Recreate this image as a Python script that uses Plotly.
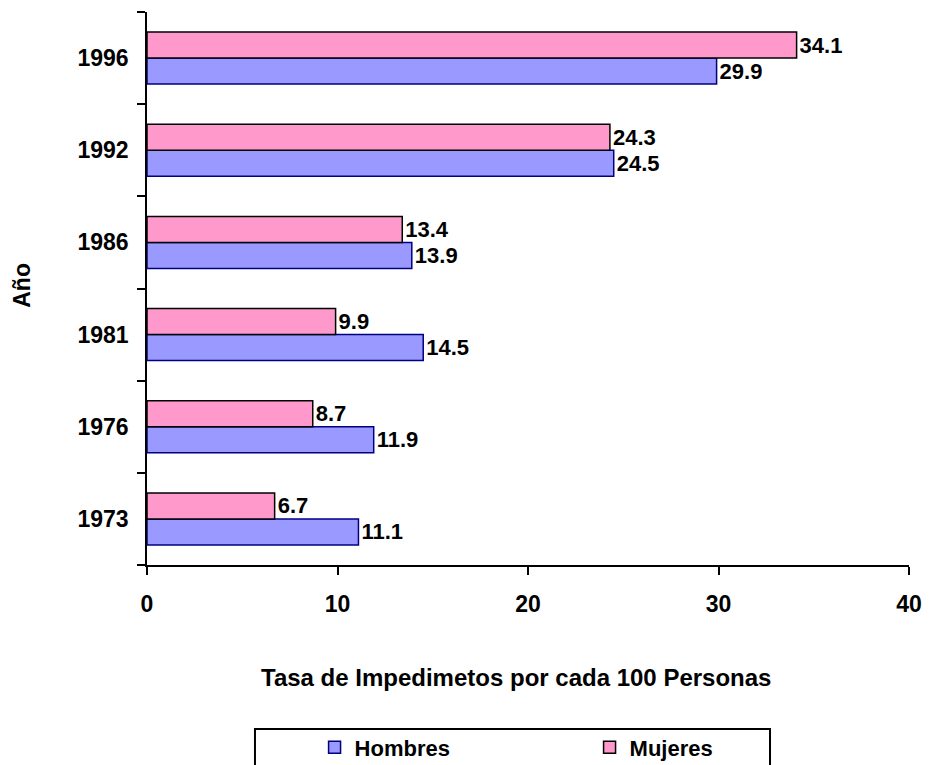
import plotly.graph_objects as go

years = ["1973", "1976", "1981", "1986", "1992", "1996"]
hombres = [11.1, 11.9, 14.5, 13.9, 24.5, 29.9]
mujeres = [6.7, 8.7, 9.9, 13.4, 24.3, 34.1]
x_ticks = [0, 10, 20, 30, 40]

FONT = "Arial, Liberation Sans, sans-serif"

def bold(size):
    return dict(family=FONT, size=size, color="black", weight="bold")

fig = go.Figure()
fig.add_trace(go.Bar(
    y=years, x=hombres, orientation="h", name="Hombres",
    marker=dict(color="#9999FF", line=dict(color="#000080", width=1.5)),
    text=[f"{v:.1f}" for v in hombres], textposition="outside",
    textfont=bold(22), cliponaxis=False,
))
fig.add_trace(go.Bar(
    y=years, x=mujeres, orientation="h", name="Mujeres",
    marker=dict(color="#FF99CC", line=dict(color="black", width=1.5)),
    text=[f"{v:.1f}" for v in mujeres], textposition="outside",
    textfont=bold(22), cliponaxis=False,
))

fig.update_layout(
    width=929, height=757,
    margin=dict(l=139, r=28, t=4, b=200),
    barmode="group", bargap=0.436, bargroupgap=0,
    plot_bgcolor="white", paper_bgcolor="white",
    font=bold(22),
    showlegend=True,
    legend=dict(
        orientation="h", xref="container", yref="container",
        x=0.330, xanchor="left", y=0.051, yanchor="top",
        borderwidth=0, bgcolor="rgba(0,0,0,0)",
        font=bold(22), entrywidth=230, traceorder="normal",
    ),
    uniformtext=dict(mode=False),
    shapes=[dict(
        type="rect", xref="paper", yref="paper",
        x0=0.1417, x1=0.8176, y0=-0.2966, y1=-0.40,
        line=dict(color="black", width=2), fillcolor="rgba(0,0,0,0)",
        layer="below",
    )],
    annotations=[
        dict(text="Año", xref="paper", yref="paper", x=-0.164, y=0.505,
             textangle=-90, showarrow=False, font=bold(23),
             xanchor="center", yanchor="middle"),
        dict(text="Tasa de Impedimetos por cada 100 Personas", xref="paper",
             yref="paper", x=0.484, y=-0.204, showarrow=False, font=bold(24),
             xanchor="center", yanchor="middle"),
    ],
)
fig.update_xaxes(
    range=[0, 40], tickvals=x_ticks, ticks="outside", ticklen=8,
    tickwidth=1.5, tickcolor="black", showline=True, linecolor="black",
    linewidth=1.5, showgrid=False, zeroline=False,
    tickfont=bold(23), ticklabelstandoff=10,
)
fig.update_yaxes(
    type="category", categoryorder="array", categoryarray=years,
    ticks="outside", tickson="boundaries", ticklen=8, tickwidth=1.5,
    tickcolor="black", showline=True, linecolor="black", linewidth=1.5,
    showgrid=False, zeroline=False, ticklabelstandoff=12,
    tickfont=bold(23),
)

fig.write_html("out.html")
